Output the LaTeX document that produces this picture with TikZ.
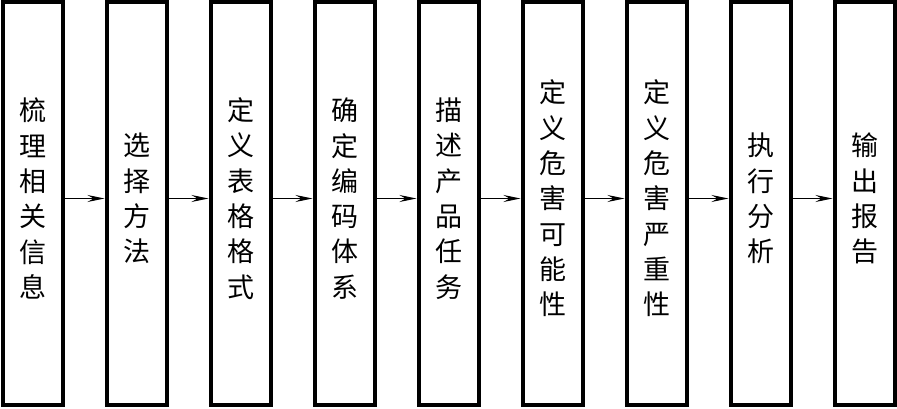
\documentclass[tikz,border=0pt]{standalone}
\usepackage{fontspec}
\newfontfamily\cjk{Noto Sans CJK SC}
\usetikzlibrary{arrows.meta}

\begin{document}
\begin{tikzpicture}[
    x=1pt, y=1pt,
    stage/.style={draw, line width=4pt, minimum width=60.5pt, minimum height=403pt, inner sep=0pt},
    stagetext/.style={font=\cjk\fontsize{27}{35.3}\selectfont, align=center, inner sep=0pt},
    flow/.style={-{Stealth[length=17pt, width=7pt, inset=6pt]}, line width=1.2pt}
]

\useasboundingbox (0,0) rectangle (897,408);

% Process boxes
\node[stage] (b1) at (32.75, 204.5)  {};
\node[stage] (b2) at (136.75, 204.5) {};
\node[stage] (b3) at (240.75, 204.5) {};
\node[stage] (b4) at (344.75, 204.5) {};
\node[stage] (b5) at (448.75, 204.5) {};
\node[stage] (b6) at (552.75, 204.5) {};
\node[stage] (b7) at (656.75, 204.5) {};
\node[stage] (b8) at (760.75, 204.5) {};
\node[stage] (b9) at (864.75, 204.5) {};

% Vertical texts (set a little above the box centre)
\node[stagetext] (t1) at (32.75, 209.5)  {梳\\理\\相\\关\\信\\息};
\node[stagetext] (t2) at (136.75, 209.5) {选\\择\\方\\法};
\node[stagetext] (t3) at (240.75, 209.5) {定\\义\\表\\格\\格\\式};
\node[stagetext] (t4) at (344.75, 209.5) {确\\定\\编\\码\\体\\系};
\node[stagetext] (t5) at (448.75, 209.5) {描\\述\\产\\品\\任\\务};
\node[stagetext] (t6) at (552.75, 209.5) {定\\义\\危\\害\\可\\能\\性};
\node[stagetext] (t7) at (656.75, 209.5) {定\\义\\危\\害\\严\\重\\性};
\node[stagetext] (t8) at (760.75, 209.5) {执\\行\\分\\析};
\node[stagetext] (t9) at (864.75, 209.5) {输\\出\\报\\告};

% Flow arrows
\draw[flow] (t1 -| b1.east) -- (t2 -| b2.west);
\draw[flow] (t2 -| b2.east) -- (t3 -| b3.west);
\draw[flow] (t3 -| b3.east) -- (t4 -| b4.west);
\draw[flow] (t4 -| b4.east) -- (t5 -| b5.west);
\draw[flow] (t5 -| b5.east) -- (t6 -| b6.west);
\draw[flow] (t6 -| b6.east) -- (t7 -| b7.west);
\draw[flow] (t7 -| b7.east) -- (t8 -| b8.west);
\draw[flow] (t8 -| b8.east) -- (t9 -| b9.west);

\end{tikzpicture}
\end{document}
